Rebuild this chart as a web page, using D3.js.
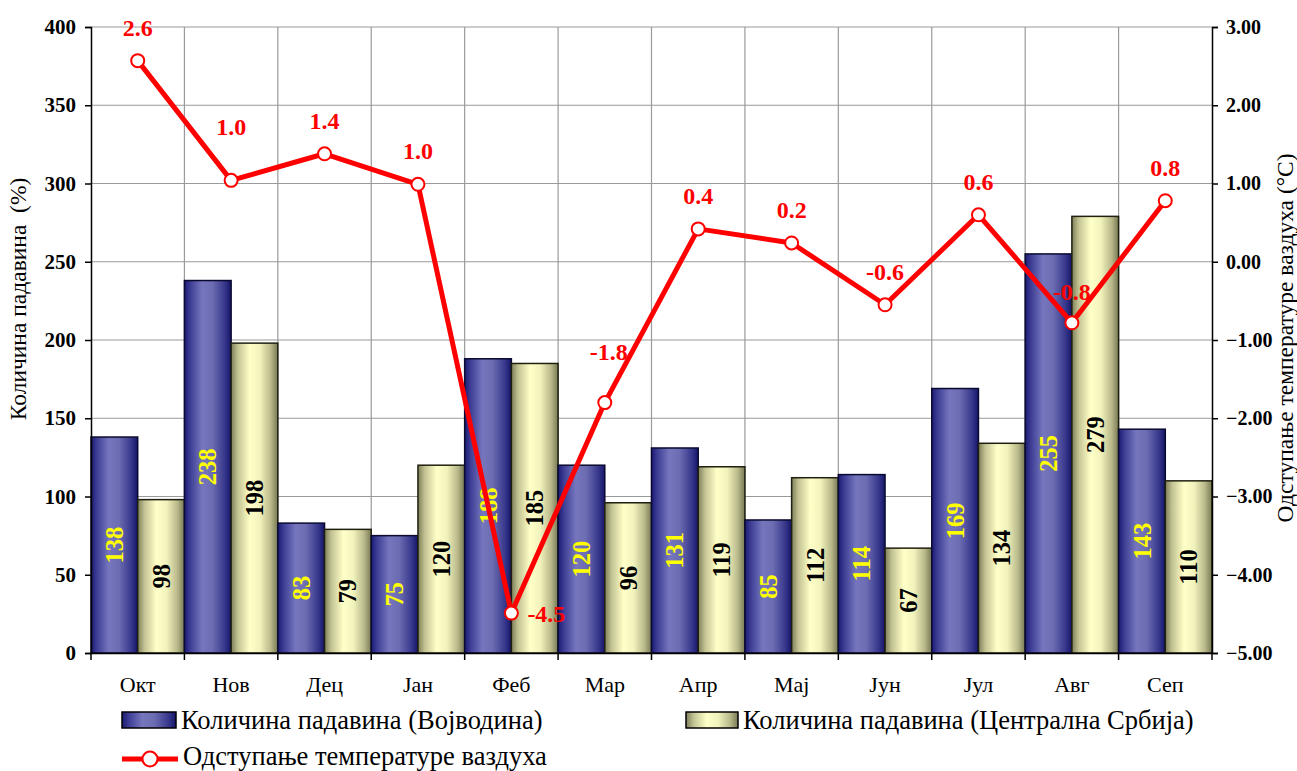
<!DOCTYPE html>
<html>
<head>
<meta charset="utf-8">
<script src="https://cdn.jsdelivr.net/npm/d3@7"></script>
<style>
  body { margin: 0; background: #fff; }
</style>
</head>
<body>
<div id="chart"></div>
<script>
// chart data
const months = ["Окт", "Нов", "Дец", "Јан", "Феб", "Мар", "Апр", "Мај", "Јун", "Јул", "Авг", "Сеп"];
const vojvodina = [138, 238, 83, 75, 188, 120, 131, 85, 114, 169, 255, 143];
const centralSerbia = [98, 198, 79, 120, 185, 96, 119, 112, 67, 134, 279, 110];
const tempDev = [2.57, 1.04, 1.38, 0.99, -4.49, -1.80, 0.42, 0.24, -0.55, 0.60, -0.78, 0.78];
const leftTicks = [0, 50, 100, 150, 200, 250, 300, 350, 400];
const rightTicks = [-5, -4, -3, -2, -1, 0, 1, 2, 3];
const seriesNames = ["Количина падавина (Војводина)", "Количина падавина (Централна Србија)", "Одступање температуре ваздуха"];

const FONT = "'Liberation Serif', 'Times New Roman', 'DejaVu Serif', serif";

const W = 1297, H = 771;
const margin = {top: 27, right: 85, bottom: 118, left: 91};
const width = W - margin.left - margin.right;
const height = H - margin.top - margin.bottom;

const svg = d3.select("#chart").append("svg")
    .attr("width", W)
    .attr("height", H)
    .style("font-family", FONT);

// gradients for the bars
const defs = svg.append("defs");
function grad(id, stops) {
    let g = defs.append("linearGradient").attr("id", id)
        .attr("x1", "0%").attr("x2", "100%").attr("y1", "0%").attr("y2", "0%");
    stops.forEach(s => g.append("stop").attr("offset", s[0]).attr("stop-color", s[1]));
}
grad("gBlue", [["0%", "#1a1a72"], ["12%", "#3c3c94"], ["38%", "#7676be"], ["60%", "#6c6cb2"], ["85%", "#3a3a8e"], ["100%", "#15156a"]]);
grad("gYellow", [["0%", "#7e7e5a"], ["15%", "#c4c494"], ["40%", "#ffffc8"], ["62%", "#f2f2bc"], ["85%", "#b8b88a"], ["100%", "#787854"]]);

const g = svg.append("g").attr("transform", `translate(${margin.left},${margin.top})`);

// scales
const x = d3.scaleBand().domain(months).range([0, width]).padding(0);
const xSub = d3.scaleBand().domain(["v", "c"]).range([0, x.bandwidth()]).padding(0);
const y = d3.scaleLinear().domain([0, 400]).range([height, 0]);
const y2 = d3.scaleLinear().domain([-5, 3]).range([height, 0]);

// gridlines
g.append("g").selectAll("line").data(leftTicks.filter(d => d > 0)).join("line")
    .attr("x1", 0).attr("x2", width)
    .attr("y1", d => y(d)).attr("y2", d => y(d))
    .attr("stroke", "#9a9a9a").attr("stroke-width", 1.2);
g.append("g").selectAll("line").data(months.slice(1)).join("line")
    .attr("x1", d => x(d)).attr("x2", d => x(d))
    .attr("y1", 0).attr("y2", height)
    .attr("stroke", "#9a9a9a").attr("stroke-width", 1.2);

// bars
const groups = g.append("g").selectAll("g").data(months).join("g")
    .attr("transform", d => `translate(${x(d)},0)`);

groups.append("rect")
    .attr("x", xSub("v"))
    .attr("y", (d, i) => y(vojvodina[i]))
    .attr("width", xSub.bandwidth())
    .attr("height", (d, i) => height - y(vojvodina[i]))
    .attr("fill", "url(#gBlue)")
    .attr("stroke", "#0a0a30").attr("stroke-width", 1.5);

groups.append("rect")
    .attr("x", xSub("c"))
    .attr("y", (d, i) => y(centralSerbia[i]))
    .attr("width", xSub.bandwidth())
    .attr("height", (d, i) => height - y(centralSerbia[i]))
    .attr("fill", "url(#gYellow)")
    .attr("stroke", "#202010").attr("stroke-width", 1.5);

// bar value labels (rotated)
function barLabel(key, vals, color) {
    groups.append("text")
        .attr("transform", (d, i) => {
            let cx = xSub(key) + xSub.bandwidth() / 2;
            let cy = (y(vals[i]) + height) / 2;
            return `translate(${cx},${cy}) rotate(-90)`;
        })
        .attr("text-anchor", "middle")
        .attr("dy", "0.35em")
        .style("font-family", FONT)
        .style("font-size", "24.5px")
        .style("font-weight", "bold")
        .style("fill", color)
        .text((d, i) => vals[i]);
}
barLabel("v", vojvodina, "#ffff00");
barLabel("c", centralSerbia, "#000");

// axes
const leftAxis = g.append("g")
    .call(d3.axisLeft(y).tickValues(leftTicks).tickSize(6).tickFormat(d3.format("d")));
const rightAxis = g.append("g").attr("transform", `translate(${width},0)`)
    .call(d3.axisRight(y2).tickValues(rightTicks).tickSize(6).tickFormat(d3.format(".2f")));
const bottomAxis = g.append("g").attr("transform", `translate(0,${height})`)
    .call(d3.axisBottom(x).tickSize(0).tickFormat(""));

[leftAxis, rightAxis, bottomAxis].forEach(a => {
    a.attr("font-family", null);
    a.select(".domain").attr("stroke", "#000").attr("stroke-width", 1.5);
    a.selectAll(".tick line").attr("stroke", "#000").attr("stroke-width", 1.5);
});
leftAxis.selectAll(".tick text")
    .attr("x", -15)
    .style("font-size", "21px").style("font-weight", "bold")
    .style("font-family", FONT).style("fill", "#000");
rightAxis.selectAll(".tick text")
    .attr("x", 14)
    .style("font-size", "20px").style("font-weight", "bold")
    .style("font-family", FONT).style("fill", "#000");

// category boundary ticks on the x axis
g.append("g").selectAll("line").data(d3.range(months.length + 1)).join("line")
    .attr("x1", i => i * x.bandwidth()).attr("x2", i => i * x.bandwidth())
    .attr("y1", height).attr("y2", height + 7)
    .attr("stroke", "#000").attr("stroke-width", 1.5);

// month labels
g.append("g").selectAll("text").data(months).join("text")
    .attr("x", d => x(d) + x.bandwidth() / 2)
    .attr("y", height + 39)
    .attr("text-anchor", "middle")
    .style("font-family", FONT)
    .style("font-size", "22px")
    .text(d => d);

// axis titles
svg.append("text")
    .attr("transform", `translate(26,299) rotate(-90)`)
    .attr("text-anchor", "middle")
    .style("font-family", FONT)
    .style("font-size", "23.5px")
    .style("white-space", "pre")
    .text("Количина падавина  (%)");
svg.append("text")
    .attr("transform", `translate(1293,338) rotate(-90)`)
    .attr("text-anchor", "middle")
    .style("font-family", FONT)
    .style("font-size", "23.5px")
    .text("Одступање температуре ваздуха (°C)");

// temperature line
const cx = d => x(d) + x.bandwidth() / 2;
const line = d3.line()
    .x(d => cx(d))
    .y((d, i) => y2(tempDev[i]));

g.append("path")
    .datum(months)
    .attr("d", line)
    .attr("fill", "none")
    .attr("stroke", "#ff0000")
    .attr("stroke-width", 5)
    .attr("stroke-linejoin", "round");

g.append("g").selectAll("circle").data(months).join("circle")
    .attr("cx", d => cx(d))
    .attr("cy", (d, i) => y2(tempDev[i]))
    .attr("r", 6.5)
    .attr("fill", "#fff")
    .attr("stroke", "#ff0000")
    .attr("stroke-width", 2);

// label placement tweaks (some were moved by hand in the original)
const labelShift = {"Нов": [0, -20], "Феб": [16, 0], "Мар": [4, -18], "Авг": [0, 2]};
g.append("g").selectAll("text").data(months).join("text")
    .attr("x", d => cx(d) + (labelShift[d] ? labelShift[d][0] : 0))
    .attr("y", (d, i) => {
        let base = y2(tempDev[i]);
        if (d === "Феб") return base + 9;
        return base - 25 + (labelShift[d] ? labelShift[d][1] : 0);
    })
    .attr("text-anchor", d => d === "Феб" ? "start" : "middle")
    .style("font-family", FONT)
    .style("font-size", "24px")
    .style("font-weight", "bold")
    .style("fill", "#ff0000")
    .text((d, i) => tempDev[i].toFixed(1));

// legend
const legend = svg.append("g").style("font-family", FONT);
legend.append("rect").attr("x", 122).attr("y", 712).attr("width", 54).attr("height", 16)
    .attr("fill", "url(#gBlue)").attr("stroke", "#000").attr("stroke-width", 1.5);
legend.append("text").attr("x", 181).attr("y", 729)
    .style("font-size", "26.5px").text(seriesNames[0]);
legend.append("rect").attr("x", 686).attr("y", 712).attr("width", 52).attr("height", 16)
    .attr("fill", "url(#gYellow)").attr("stroke", "#000").attr("stroke-width", 1.5);
legend.append("text").attr("x", 743).attr("y", 729)
    .style("font-size", "26.5px").text(seriesNames[1]);
legend.append("line").attr("x1", 122).attr("x2", 178).attr("y1", 759).attr("y2", 759)
    .attr("stroke", "#ff0000").attr("stroke-width", 5);
legend.append("circle").attr("cx", 150).attr("cy", 759).attr("r", 7.5)
    .attr("fill", "#fff").attr("stroke", "#ff0000").attr("stroke-width", 2);
legend.append("text").attr("x", 183).attr("y", 765)
    .style("font-size", "26.5px").text(seriesNames[2]);
</script>
</body>
</html>
